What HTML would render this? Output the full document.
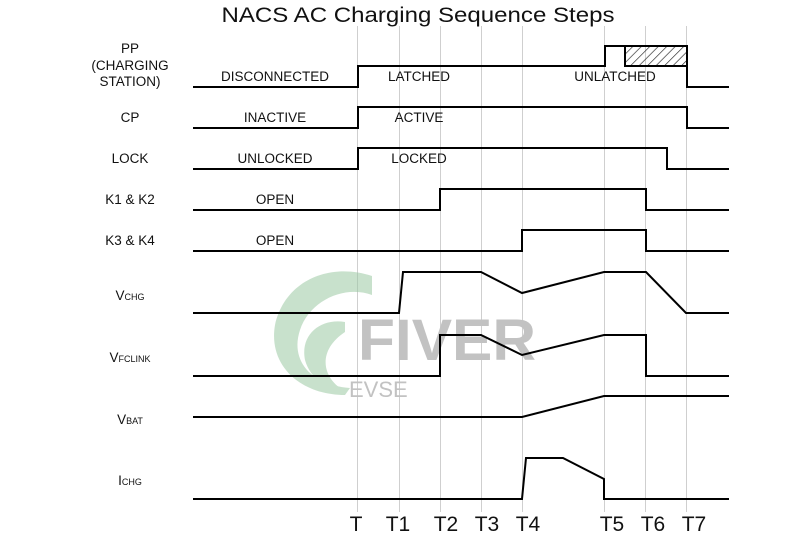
<!DOCTYPE html>
<html><head><meta charset="utf-8"><style>
html,body{margin:0;padding:0;background:#fff}
svg{display:block}
text{font-family:"Liberation Sans",Arial,sans-serif;fill:#111}
</style></head><body>
<svg width="800" height="540" viewBox="0 0 800 540" xmlns="http://www.w3.org/2000/svg">
<defs>
<pattern id="h" width="6" height="6" patternUnits="userSpaceOnUse" patternTransform="rotate(45)">
<line x1="0" y1="0" x2="0" y2="6" stroke="#222" stroke-width="1.3"/>
</pattern>
</defs>
<rect width="800" height="540" fill="#fff"/>
<text x="418" y="22" font-size="21" text-anchor="middle" textLength="393" lengthAdjust="spacingAndGlyphs">NACS AC Charging Sequence Steps</text>
<g stroke="#cfcfcf" stroke-width="1">
<line x1="357.5" y1="26" x2="357.5" y2="512"/>
<line x1="399.5" y1="26" x2="399.5" y2="512"/>
<line x1="440.5" y1="26" x2="440.5" y2="512"/>
<line x1="481.5" y1="26" x2="481.5" y2="512"/>
<line x1="522.5" y1="26" x2="522.5" y2="512"/>
<line x1="604.5" y1="26" x2="604.5" y2="512"/>
<line x1="645.5" y1="26" x2="645.5" y2="512"/>
<line x1="686.5" y1="26" x2="686.5" y2="512"/>
</g>
<g opacity="0.55">
<path d="M372 276 C330 262 285 280 275 325 C268 365 300 395 345 395 L350 388 C310 385 290 360 300 330 C310 300 345 285 372 295 Z" fill="#9cc9a4"/>
<path d="M345 322 C320 318 300 335 305 360 C310 378 325 388 340 388 C322 375 318 350 345 332 Z" fill="#9cc9a4"/>
</g>
<text x="358" y="360" font-size="58" font-weight="bold" style="fill:#c2c2c2" textLength="178" lengthAdjust="spacingAndGlyphs">FIVER</text>
<text x="349" y="397" font-size="22" style="fill:#c2c2c2">EVSE</text>
<g fill="none" stroke="#000" stroke-width="2" stroke-linejoin="miter">
<rect x="625" y="46" width="62" height="20" fill="url(#h)"/>
<polyline points="193,87 358,87 358,66 605,66 605,46 687,46 687,87 729,87"/>
<polyline points="193,128 358,128 358,107 687,107 687,128 729,128"/>
<polyline points="193,169 358,169 358,148 667,148 667,169 729,169"/>
<polyline points="193,210 440,210 440,189 646,189 646,210 729,210"/>
<polyline points="193,251 522,251 522,230 646,230 646,251 729,251"/>
<polyline points="193,313 399,313 403,272 481,272 522,293 604,272 646,272 686,313 729,313"/>
<polyline points="193,376 440,376 440,335 481,335 522,355 604,335 646,335 646,376 729,376"/>
<polyline points="193,417 522,417 604,396 729,396"/>
<polyline points="193,499 522,499 526,458 563,458 604,479 604,499 729,499"/>
</g>
<g font-size="13.5" text-anchor="middle">
<text x="130" y="53">PP</text>
<text x="130" y="70">(CHARGING</text>
<text x="130" y="86">STATION)</text>
<text x="130" y="122">CP</text>
<text x="130" y="163">LOCK</text>
<text x="130" y="204">K1 &amp; K2</text>
<text x="130" y="245">K3 &amp; K4</text>
<text x="130" y="300">V<tspan font-size="9">CHG</tspan></text>
<text x="130" y="362">V<tspan font-size="9">FCLINK</tspan></text>
<text x="130" y="424">V<tspan font-size="9">BAT</tspan></text>
<text x="130" y="485">I<tspan font-size="9">CHG</tspan></text>
<text x="275" y="81">DISCONNECTED</text>
<text x="419" y="81">LATCHED</text>
<text x="615" y="81">UNLATCHED</text>
<text x="275" y="122">INACTIVE</text>
<text x="419" y="122">ACTIVE</text>
<text x="275" y="163">UNLOCKED</text>
<text x="419" y="163">LOCKED</text>
<text x="275" y="204">OPEN</text>
<text x="275" y="245">OPEN</text>
</g>
<g font-size="21" text-anchor="middle">
<text x="356" y="531">T</text>
<text x="398" y="531">T1</text>
<text x="446" y="531">T2</text>
<text x="487" y="531">T3</text>
<text x="528" y="531">T4</text>
<text x="612" y="531">T5</text>
<text x="653" y="531">T6</text>
<text x="694" y="531">T7</text>
</g>
</svg>
</body></html>
